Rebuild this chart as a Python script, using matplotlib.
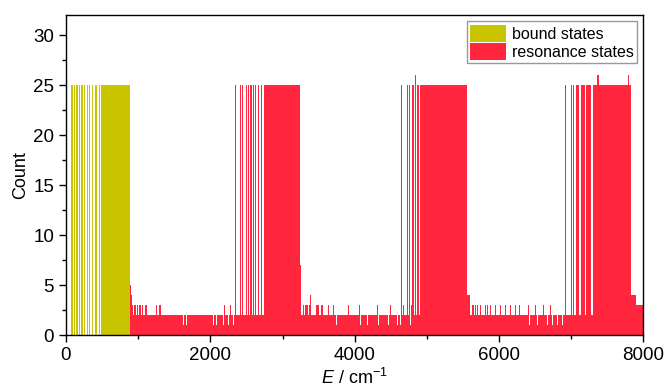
import matplotlib
matplotlib.use("Agg")
import matplotlib.pyplot as plt
from matplotlib.patches import Patch
from matplotlib.ticker import MultipleLocator

plt.rcParams["font.family"] = ["Liberation Sans", "DejaVu Sans"]
plt.rcParams["mathtext.fontset"] = "custom"
plt.rcParams["mathtext.rm"] = "Liberation Sans"
plt.rcParams["mathtext.it"] = "Liberation Sans:italic"

BOUND_COLOR = "#c8c400"
RES_COLOR = "#ff263e"

# bound states: isolated lines and the dense band (E in cm^-1, count)
bound_line_E = [83, 118, 153, 188, 222, 259, 295, 330, 370, 415, 460]
bound_line_count = [25] * len(bound_line_E)
bound_band_start = [490]
bound_band_end = [885]
bound_band_count = [25]

# resonance states: continuous background (count 2) with dips to 1
base_start = 885
base_end = 8000
base_count = 2
dip_E = [1626, 1673, 2042, 2089, 2181, 2250, 2320, 3753, 4086, 4178, 4326,
         4474, 4589, 4631, 4770, 6419, 6526, 6665, 6734, 6803, 6877, 7002]

# resonance states: isolated lines
res_line_E = [925, 957, 989, 1026, 1063, 1109, 1257, 1303, 2195, 2284,
              3286, 3314, 3341, 3369, 3388, 3476, 3498, 3545, 3637, 3706,
              3914, 4063, 4316, 4492, 4677, 4793,
              5639, 5671, 5703, 5740, 5809, 5841, 5879, 5948, 6017, 6087,
              6156, 6225, 6285, 6410, 6503, 6618, 6711,
              2353, 2422, 2444, 2500, 2528, 2565, 2602, 2630, 2666, 2704,
              4645, 4732, 4756, 4807, 4839, 4867, 4885, 4908, 4932, 4960,
              6919, 7002, 7030, 7081, 7103, 7140, 7164, 7186, 7210, 7233, 7261,
              7372, 7796]
res_line_count = [3, 3, 3, 3, 3, 3, 3, 3, 3, 3,
                  3, 3, 3, 3, 4, 3, 3, 3, 3, 3,
                  3, 3, 3, 3, 3, 3,
                  3, 3, 3, 3, 3, 3, 3, 3, 3, 3,
                  3, 3, 3, 3, 3, 3, 3,
                  25, 25, 25, 25, 25, 25, 25, 25, 25, 25,
                  25, 25, 25, 25, 26, 25, 25, 25, 25, 25,
                  25, 25, 25, 25, 25, 25, 25, 25, 25, 25, 25,
                  26, 26]

# resonance states: dense bands
res_band_start = [885, 900, 2741, 3244, 4978, 5556, 7297, 7834, 7895]
res_band_end = [900, 920, 3244, 3262, 5556, 5600, 7834, 7895, 8000]
res_band_count = [5, 4, 25, 7, 25, 4, 25, 4, 3]

fig = plt.figure(figsize=(6.65, 3.92), dpi=100)
ax = fig.add_axes([0.0992, 0.1454, 0.8684, 0.8163])

# background with dips
edges = [base_start]
values = []
for d in dip_E:
    edges += [d - 7, d + 7]
    values += [base_count, base_count - 1]
edges.append(base_end)
values.append(base_count)
ax.stairs(values, edges, fill=True, color=RES_COLOR, linewidth=0)

ax.bar(res_line_E, res_line_count, width=18, color=RES_COLOR, linewidth=0)
ax.bar(res_band_start, res_band_count,
       width=[e - s for s, e in zip(res_band_start, res_band_end)],
       align="edge", color=RES_COLOR, linewidth=0)

ax.bar(bound_line_E, bound_line_count, width=18, color=BOUND_COLOR, linewidth=0)
ax.bar(bound_band_start, bound_band_count,
       width=[e - s for s, e in zip(bound_band_start, bound_band_end)],
       align="edge", color=BOUND_COLOR, linewidth=0)

ax.set_xlim(0, 8000)
ax.set_ylim(0, 32)
ax.xaxis.set_major_locator(MultipleLocator(2000))
ax.xaxis.set_minor_locator(MultipleLocator(1000))
ax.yaxis.set_major_locator(MultipleLocator(5))
ax.yaxis.set_minor_locator(MultipleLocator(2.5))
ax.tick_params(which="major", direction="out", length=5, width=1, labelsize=13.5)
ax.tick_params(which="minor", direction="out", length=3, width=1)
for s in ax.spines.values():
    s.set_linewidth(1)

ax.set_xlabel(r"$E$ / cm$^{-1}$", fontsize=13, labelpad=3)
ax.set_ylabel("Count", fontsize=13, labelpad=3)

ax.legend(
    handles=[Patch(facecolor=BOUND_COLOR, label="bound states"),
             Patch(facecolor=RES_COLOR, label="resonance states")],
    loc="upper right", fontsize=11.5, fancybox=False, framealpha=1,
    edgecolor="#999999", borderpad=0.2, handlelength=2.2, handleheight=1.3,
    handletextpad=0.4, labelspacing=0.05, borderaxespad=0.4,
)

fig.savefig("out.png", dpi=100)
